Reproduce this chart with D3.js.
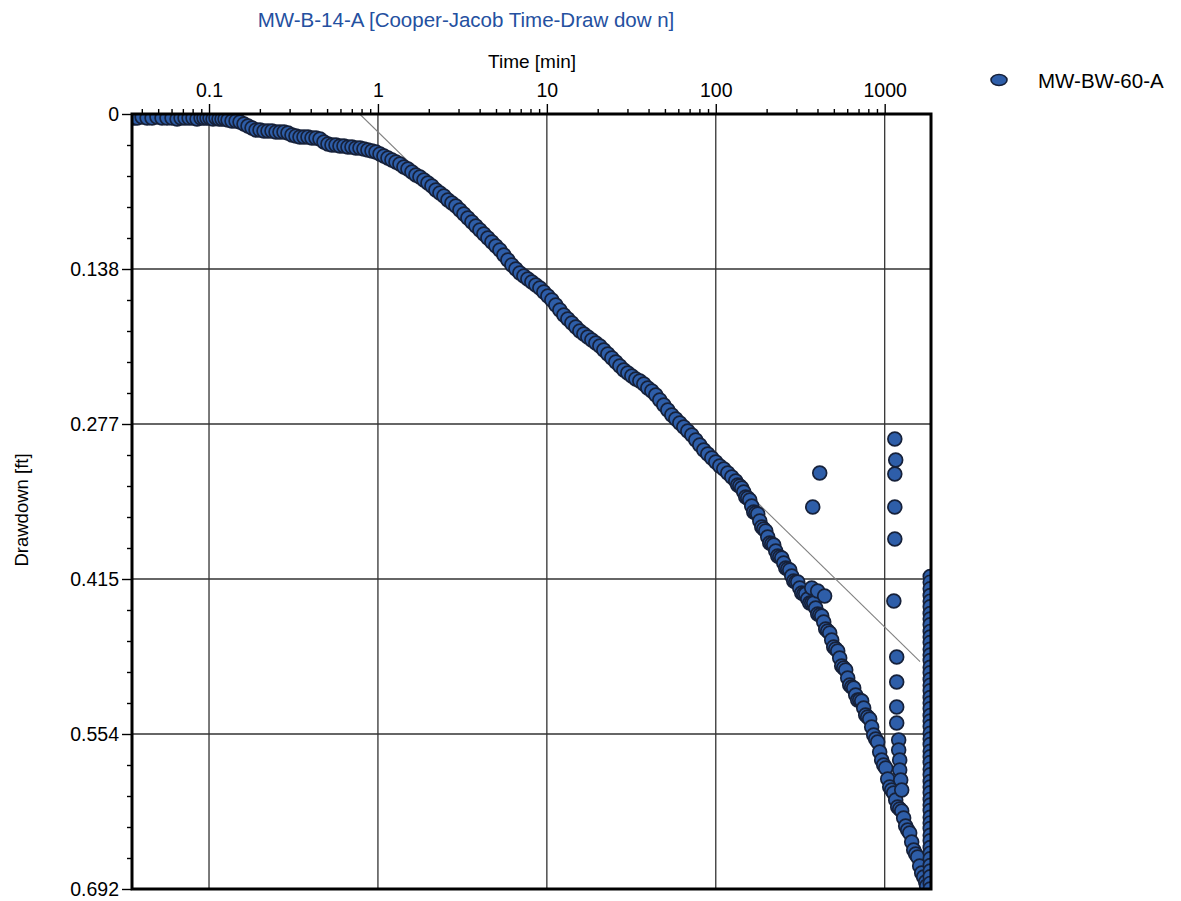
<!DOCTYPE html>
<html><head><meta charset="utf-8">
<script src="https://cdn.jsdelivr.net/npm/d3@7"></script>
<style>
body{margin:0;background:#fff}
svg{display:block}
text{font-family:"Liberation Sans",Arial,Helvetica,sans-serif}
</style>
</head><body>
<svg id="chart" width="1181" height="901"></svg>
<script>
// ---------------- data ----------------
const chartTitle = "MW-B-14-A [Cooper-Jacob Time-Draw dow n]";
const xAxisTitle = "Time [min]";
const yAxisTitle = "Drawdown [ft]";
const seriesName = "MW-BW-60-A";

const xTickValues = [0.1, 1, 10, 100, 1000];
const xTickLabels = ["0.1", "1", "10", "100", "1000"];
const yTickValues = [0, 0.1384, 0.2768, 0.4152, 0.5536, 0.692];
const yTickLabels = ["0", "0.138", "0.277", "0.415", "0.554", "0.692"];

// main drawdown curve (time in min, drawdown in ft)
const mainTime = [
 0.0355,0.0375,0.0402,0.0430,0.0460,0.0492,0.0527,0.0564,0.0604,0.0647,0.0683,0.0721,0.0762,0.0804,0.0849,0.0897,0.0934,0.0973,0.1014,0.1056,0.1100,0.1146,0.1194,0.1244,0.1296,
 0.1368,0.1445,0.1526,0.1611,0.1701,0.1797,0.1897,0.2003,0.2116,0.2234,0.2359,0.2491,0.2630,0.2778,0.2933,0.3098,0.3271,0.3454,0.3648,0.3852,0.4068,0.4296,0.4537,0.4791,
 0.5059,0.5342,0.5642,0.5957,0.6291,0.6643,0.7015,0.7408,0.7823,0.826,0.872,0.922,0.973,1.028,1.085,1.146,1.210,1.278,1.349,1.425,1.505,1.589,1.678,1.772,1.872,1.977,
 2.087,2.204,2.328,2.458,2.596,2.741,2.894,3.056,3.228,3.408,3.599,3.801,4.014,4.239,4.476,4.727,4.991,5.271,5.566,5.878,6.207,6.555,6.921,7.309,7.718,8.150,8.607,9.089,9.598,
 10.14,10.70,11.30,11.94,12.61,13.31,14.06,14.85,15.68,16.56,17.48,18.46,19.50,20.59,21.74,22.96,24.25,25.61,27.04,28.56,30.15,31.84,33.63,35.51,37.50,39.60,41.82,44.16,46.63,49.25,
 52.00,54.92,58.00,61.24,64.67,68.29,72.11,76.15,80.42,84.92,89.68,94.70,100.0,105.6,111.5,117.8,124.4,131.3,138.7,146.5,154.6,163.3,172.5,182.2,192.3,203.1,214.5,226.5,239.2,252.6,
 266.7,281.7,297.5,314.1,331.7,350.3,369.8,390.5,412.5,435.6,459.9,485.7,513.0,541.6,572.0,604.0,637.8,673.5,711.3,751.0,793.1,837.5,884.4,934.1,986.5,1042,1100,1162,1227,1295,
 1368,1445,1526,1611,1701,1772
];
const mainDrawdown = [
 0.0036,0.0036,0.0027,0.0036,0.0036,0.0027,0.0036,0.0036,0.0036,0.0045,0.0036,0.0036,0.0036,0.0036,0.0045,0.0036,0.0036,0.0036,0.0036,0.0045,0.0036,0.0045,0.0045,0.0045,0.0054,
 0.0063,0.0063,0.0071,0.0089,0.0107,0.0125,0.0143,0.0143,0.0152,0.0152,0.0152,0.0161,0.0161,0.0161,0.0170,0.0188,0.0196,0.0205,0.0205,0.0205,0.0214,0.0214,0.0223,0.0250,
 0.0268,0.0277,0.0277,0.0286,0.0286,0.0295,0.0295,0.0304,0.0304,0.0313,0.0321,0.0330,0.0339,0.0357,0.0375,0.0393,0.0411,0.0429,0.0446,0.0473,0.0491,0.0518,0.0545,0.0563,0.0589,0.0616,
 0.0643,0.0679,0.0705,0.0732,0.0768,0.0795,0.0821,0.0857,0.0893,0.0929,0.0964,0.1000,0.1036,0.1071,0.1107,0.1143,0.1179,0.1214,0.1259,0.1304,0.1348,0.1384,0.1420,0.1446,0.1473,0.1500,0.1527,0.1554,0.1589,
 0.1625,0.1661,0.1705,0.1750,0.1795,0.1830,0.1866,0.1902,0.1938,0.1964,0.1991,0.2018,0.2045,0.2072,0.2107,0.2143,0.2179,0.2214,0.2250,0.2286,0.2313,0.2339,0.2366,0.2384,0.2411,0.2447,0.2473,0.2509,0.2554,0.2598,
 0.2643,0.2688,0.2723,0.2759,0.2795,0.2831,0.2866,0.2911,0.2956,0.3000,0.3036,0.3072,0.3107,0.3143,0.3170,0.3206,0.3241,0.3277,0.3322,0.3375,0.3429,0.3500,0.3563,0.3634,0.3706,0.3777,0.3840,0.3902,0.3956,0.4009,
 0.4063,0.4125,0.4179,0.4232,0.4286,0.4331,0.4366,0.4411,0.4473,0.4536,0.4616,0.4697,0.4777,0.4857,0.4947,0.5036,0.5116,0.5188,0.5232,0.5304,0.5384,0.5473,0.5581,0.5697,0.5813,0.5938,0.6036,0.6125,0.6206,0.6286,
 0.6393,0.6500,0.6607,0.6714,0.6813,0.6893
];

// additional readings along the late part of the curve (scatter)
const extraTime = [134.9,142.5,150.5,158.9,167.8,177.2,187.2,197.7,208.7,220.4,232.8,245.8,259.6,274.1,289.4,305.6,322.8,340.8,359.9,380.1,401.4,423.8,447.5,472.7,499.1,527.1,556.6,587.8,620.7,655.4,692.1,730.9,771.8,815.1,860.8,909.0,959.8,1014,1071,1130,1194,1261,1331,1406,1485,1568,1656,1748];
const extraDrawdown = [0.3313,0.3340,0.3420,0.3447,0.3554,0.3572,0.3688,0.3724,0.3831,0.3849,0.3947,0.3965,0.4054,0.4072,0.4170,0.4179,0.4277,0.4286,0.4366,0.4366,0.4465,0.4483,0.4599,0.4634,0.4759,0.4795,0.4929,0.4965,0.5099,0.5125,0.5232,0.5241,0.5366,0.5402,0.5545,0.5608,0.5768,0.5840,0.6009,0.6063,0.6188,0.6224,0.6358,0.6420,0.6572,0.6634,0.6777,0.6858];

// off-curve readings
const bumpTime = [369.8, 401.0, 441.0];
const bumpDrawdown = [0.4232, 0.4259, 0.4304];
const outlierTime = [412.5, 375.0];
const outlierDrawdown = [0.3206, 0.3509];
const lateTime = [1148,1162,1148,1148,1148,1133,1178,1178,1178,1178,1210,1210,1227,1227,1244,1261];
const lateDrawdown = [0.2902,0.3090,0.3215,0.3509,0.3795,0.4348,0.4849,0.5072,0.5295,0.5438,0.5590,0.5679,0.5768,0.5858,0.5947,0.6036];
const endTime = [1860,1860,1860,1860,1860,1860,1860,1860,1860,1860,1860,1860,1860,1860,1860,1860,1860,1860,1860,1860,1860,1860,1860,1860,1860,1860,1860,1860,1860,1860,1860,1860,1860,1860,1860,1860,1860,1860,1860,1860,1860,1860,1860,1860,1860,1860,1860,1860,1860,1860,1860,1860,1860];
const endDrawdown = [0.413,0.418,0.424,0.430,0.435,0.440,0.446,0.451,0.456,0.462,0.467,0.472,0.478,0.483,0.488,0.494,0.499,0.505,0.510,0.515,0.521,0.526,0.531,0.537,0.542,0.547,0.553,0.558,0.563,0.569,0.574,0.579,0.585,0.590,0.596,0.601,0.606,0.612,0.617,0.622,0.628,0.633,0.638,0.644,0.649,0.655,0.660,0.665,0.671,0.676,0.681,0.687,0.692];

// Cooper-Jacob straight-line fit
const fitTime = [0.78, 1620];
const fitDrawdown = [0, 0.489];

// ---------------- drawing ----------------
const svg = d3.select("#chart");
const L = 132, R = 931, T = 114, B = 889;
const x = d3.scaleLog().domain([0.035, 1880]).range([L, R]);
const y = d3.scaleLinear().domain([0, 0.692]).range([T, B]);

const FONT = '"Liberation Sans",Arial,Helvetica,sans-serif';
const fill = "#2e5ea9", stroke = "#16213a";

svg.append("clipPath").attr("id","plotclip")
  .append("rect").attr("x",L).attr("y",T).attr("width",R-L).attr("height",B-T);

// grid
const grid = svg.append("g");
grid.selectAll(".vg").data(xTickValues).join("line")
  .attr("x1",d=>x(d)).attr("x2",d=>x(d)).attr("y1",T).attr("y2",B)
  .attr("stroke","#333").attr("stroke-width",1.3);
grid.selectAll(".hg").data(yTickValues.slice(1,-1)).join("line")
  .attr("x1",L).attr("x2",R).attr("y1",d=>y(d)).attr("y2",d=>y(d))
  .attr("stroke","#333").attr("stroke-width",1.3);

// fit line
svg.append("path")
  .datum(fitTime.map((t,i)=>[t,fitDrawdown[i]]))
  .attr("d", d3.line().x(d=>x(d[0])).y(d=>y(d[1])))
  .attr("fill","none").attr("stroke","#808080").attr("stroke-width",1.1)
  .attr("clip-path","url(#plotclip)");

// points
const pts = [];
mainTime.forEach((t,i)=>pts.push([t,mainDrawdown[i]]));
extraTime.forEach((t,i)=>pts.push([t,extraDrawdown[i]]));
pts.sort((a,b)=>a[0]-b[0]);
bumpTime.forEach((t,i)=>pts.push([t,bumpDrawdown[i]]));
outlierTime.forEach((t,i)=>pts.push([t,outlierDrawdown[i]]));
lateTime.forEach((t,i)=>pts.push([t,lateDrawdown[i]]));
endTime.forEach((t,i)=>pts.push([t,endDrawdown[i]]));

svg.append("g").attr("clip-path","url(#plotclip)")
  .selectAll("circle").data(pts).join("circle")
  .attr("cx",d=>x(d[0])).attr("cy",d=>y(d[1])).attr("r",6.9)
  .attr("fill",fill).attr("stroke",stroke).attr("stroke-width",1.7);

// minor tick values
const xMinor = [];
[0.01,0.1,1,10,100,1000].forEach(dec=>{
  for (let k=2;k<=9;k++){ const v=dec*k; if (v>=0.035 && v<=1880) xMinor.push(v); }
});
const yMinor = d3.range(0, 26).map(i=>i*0.692/25).filter((v,i)=>i%5!==0);

// top axis
const topMinor = svg.append("g").attr("transform",`translate(0,${T})`)
  .call(d3.axisTop(x).tickValues(xMinor).tickSize(5).tickSizeOuter(0).tickFormat(""));
topMinor.select(".domain").remove();
const topAx = svg.append("g").attr("transform",`translate(0,${T})`)
  .call(d3.axisTop(x).tickValues(xTickValues).tickSize(10).tickSizeOuter(0)
        .tickFormat((d,i)=>xTickLabels[i]).tickPadding(7));
topAx.select(".domain").remove();
topAx.selectAll("text").attr("font-family",FONT).attr("font-size","19.5px").attr("fill","#000");

// left axis
const leftMinor = svg.append("g").attr("transform",`translate(${L},0)`)
  .call(d3.axisLeft(y).tickValues(yMinor).tickSize(5).tickSizeOuter(0).tickFormat(""));
leftMinor.select(".domain").remove();
const leftAx = svg.append("g").attr("transform",`translate(${L},0)`)
  .call(d3.axisLeft(y).tickValues(yTickValues).tickSize(10).tickSizeOuter(0)
        .tickFormat((d,i)=>yTickLabels[i]).tickPadding(3));
leftAx.select(".domain").remove();
leftAx.selectAll("text").attr("font-family",FONT).attr("font-size","19.5px").attr("fill","#000");
svg.selectAll(".tick line").attr("stroke","#000").attr("stroke-width",1.4);

// frame (thick)
svg.append("rect").attr("x",L).attr("y",T).attr("width",R-L).attr("height",B-T)
  .attr("fill","none").attr("stroke","#000").attr("stroke-width",3);

// titles
svg.append("text").attr("x",466).attr("y",27).attr("text-anchor","middle")
  .attr("font-size","20.5px").attr("fill","#2450a0").text(chartTitle);
svg.append("text").attr("x",532).attr("y",68).attr("text-anchor","middle")
  .attr("font-size","19px").attr("fill","#000").text(xAxisTitle);
svg.append("text").attr("transform","translate(28,510) rotate(-90)").attr("text-anchor","middle")
  .attr("font-size","18.5px").attr("fill","#000").text(yAxisTitle);

// legend
svg.append("ellipse").attr("cx",999).attr("cy",80).attr("rx",8).attr("ry",5.5)
  .attr("fill",fill).attr("stroke",stroke).attr("stroke-width",1.6);
svg.append("text").attr("x",1038).attr("y",88).attr("font-size","20.5px")
  .attr("fill","#000").text(seriesName);
</script>
</body></html>
